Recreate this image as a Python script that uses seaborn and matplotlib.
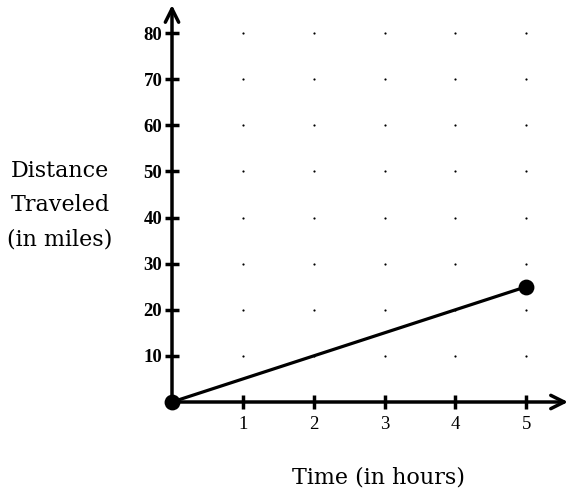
import matplotlib
matplotlib.use("Agg")
import matplotlib.pyplot as plt
import seaborn as sns
import pandas as pd

# data
hours = [0, 5]
miles = [0, 25]
x_ticks = [1, 2, 3, 4, 5]
y_ticks = [10, 20, 30, 40, 50, 60, 70, 80]

sns.set_style("white")
plt.rcParams['font.family'] = ['Liberation Serif', 'DejaVu Serif']
plt.rcParams['text.color'] = 'black'
plt.rcParams['xtick.color'] = 'black'
plt.rcParams['ytick.color'] = 'black'

fig = plt.figure(figsize=(5.71, 4.94), dpi=100)
ax = fig.add_axes([172 / 571, 92 / 494, 396 / 571, 397 / 494])
ax.set_xlim(0, 5.59)
ax.set_ylim(0, 86.1)

# grid dots
grid = pd.DataFrame([(x, y) for x in x_ticks for y in y_ticks], columns=['x', 'y'])
sns.scatterplot(data=grid, x='x', y='y', ax=ax, s=2.5, color='black', marker='o', linewidth=0)

# the line and its end points
line = pd.DataFrame({'hours': hours, 'miles': miles})
sns.lineplot(data=line, x='hours', y='miles', ax=ax, color='black', linewidth=2.3)
sns.scatterplot(data=line, x='hours', y='miles', ax=ax, s=130, color='black',
                linewidth=0, zorder=5, clip_on=False)

# axes with arrow heads
for s in ax.spines.values():
    s.set_visible(False)
ax.annotate('', xy=(5.59, 0), xytext=(0, 0), annotation_clip=False,
            arrowprops=dict(arrowstyle='->', lw=2.5, color='black',
                            shrinkA=0, shrinkB=0, mutation_scale=24))
ax.annotate('', xy=(0, 86.1), xytext=(0, 0), annotation_clip=False,
            arrowprops=dict(arrowstyle='->', lw=2.5, color='black',
                            shrinkA=0, shrinkB=0, mutation_scale=24))

ax.set_xticks(x_ticks)
ax.set_yticks(y_ticks)
ax.set_xticklabels([str(v) for v in x_ticks], fontsize=13.5)
ax.set_yticklabels([str(v) for v in y_ticks], fontsize=13.5, fontweight='bold')
ax.tick_params(axis='x', direction='inout', length=10, width=2.5, pad=5, bottom=True)
ax.tick_params(axis='y', direction='inout', length=10, width=2.5, pad=2, left=True)
ax.set_xlabel('')
ax.set_ylabel('')

fig.text(60 / 571, 1 - 205 / 494, 'Distance\nTraveled\n(in miles)', ha='center',
         va='center', fontsize=16, linespacing=1.72, family='DejaVu Serif')
fig.text(378 / 571, 1 - 477 / 494, 'Time (in hours)', ha='center', va='center',
         fontsize=16, family='DejaVu Serif')

fig.savefig('out.png', dpi=100)
